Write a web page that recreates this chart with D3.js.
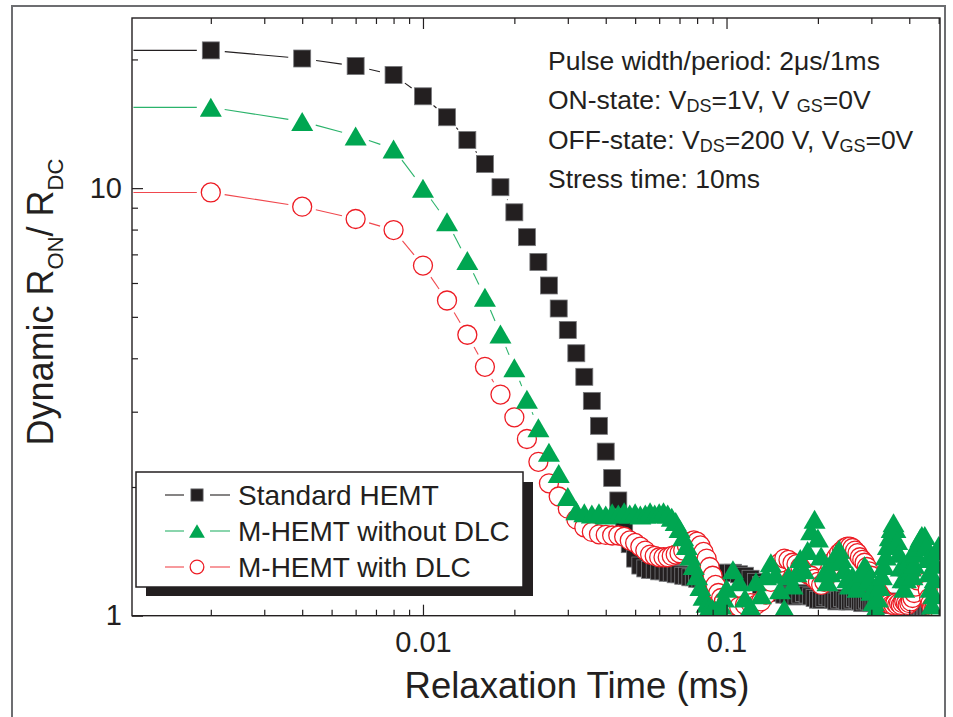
<!DOCTYPE html>
<html>
<head>
<meta charset="utf-8">
<script src="https://cdn.jsdelivr.net/npm/d3@7"></script>
<style>
  html, body { margin: 0; padding: 0; background: #fff; }
  svg { display: block; }
</style>
</head>
<body>
<svg id="chart"></svg>
<script>
const width = 953;
const height = 717;
const font = "'Liberation Sans', Arial, Helvetica, sans-serif";
const ink = "#231f20";

const svg = d3.select("#chart").attr("width", width).attr("height", height);

// Relaxation time grid (ms): 2 us steps up to 0.1 ms, then every 5 us
const timesEarly = d3.range(1, 51).map(i => +(i * 0.002).toFixed(3));
const timesLate = d3.range(21, 101).map(i => +(i * 0.005).toFixed(3));
const leadTime = 0.001; // sample left of the axis, only its line shows

// Standard HEMT
const stdEarly = [21.0, 20.1, 19.3, 18.4, 16.4, 14.65, 12.96, 11.39, 10.05, 8.78,
  7.68, 6.72, 5.92, 5.23, 4.66, 4.11, 3.62, 3.18, 2.78, 2.42,
  2.10, 1.86, 1.62, 1.47, 1.36, 1.31, 1.29, 1.28, 1.28, 1.27,
  1.27, 1.26, 1.26, 1.25, 1.25, 1.24, 1.24, 1.23, 1.23, 1.22,
  1.22, 1.21, 1.21, 1.22, 1.23, 1.24, 1.25, 1.26, 1.26, 1.26];
const stdLate = [1.26, 1.25, 1.24, 1.22, 1.20, 1.18, 1.16, 1.15, 1.14, 1.13,
  1.12, 1.12, 1.11, 1.11, 1.12, 1.13, 1.12, 1.11, 1.10, 1.09,
  1.09, 1.10, 1.11, 1.10, 1.09, 1.08, 1.09, 1.10, 1.09, 1.08,
  1.08, 1.09, 1.10, 1.09, 1.08, 1.07, 1.08, 1.09, 1.08, 1.07,
  1.07, 1.08, 1.09, 1.08, 1.07, 1.06, 1.07, 1.08, 1.07, 1.06,
  1.06, 1.07, 1.06, 1.05, 1.06, 1.07, 1.06, 1.05, 1.05, 1.06,
  1.05, 1.04, 1.05, 1.06, 1.05, 1.04, 1.05, 1.04, 1.04, 1.05,
  1.04, 1.03, 1.04, 1.05, 1.04, 1.03, 1.04, 1.03, 1.04, 1.03];

// M-HEMT without DLC
const noDlcEarly = [15.45, 14.32, 13.25, 12.35, 10.0, 8.35, 6.77, 5.56, 4.56, 3.80,
  3.21, 2.75, 2.41, 2.15, 1.90, 1.76, 1.74, 1.73, 1.74, 1.72,
  1.74, 1.73, 1.75, 1.73, 1.74, 1.72, 1.73, 1.75, 1.73, 1.74,
  1.75, 1.73, 1.70, 1.66, 1.60, 1.53, 1.46, 1.38, 1.31, 1.24,
  1.17, 1.11, 1.07, 1.05, 1.04, 1.03, 1.04, 1.06, 1.10, 1.16];
const noDlcLate = [1.28, 1.20, 1.10, 1.05, 1.20, 1.12, 1.24, 1.33, 1.25, 1.15,
  1.04, 1.24, 1.18, 1.26, 1.36, 1.28, 1.42, 1.58, 1.68, 1.52,
  1.38, 1.26, 1.20, 1.26, 1.34, 1.40, 1.43, 1.36, 1.28, 1.22,
  1.18, 1.24, 1.20, 1.16, 1.20, 1.26, 1.31, 1.29, 1.22, 1.14,
  1.08, 1.04, 1.10, 1.17, 1.24, 1.31, 1.38, 1.46, 1.53, 1.60,
  1.65, 1.60, 1.50, 1.40, 1.30, 1.22, 1.16, 1.22, 1.30, 1.36,
  1.30, 1.24, 1.32, 1.40, 1.45, 1.49, 1.52, 1.54, 1.50, 1.54,
  1.46, 1.36, 1.26, 1.16, 1.06, 1.12, 1.22, 1.32, 1.42, 1.46];

// M-HEMT with DLC
const dlcEarly = [9.77, 9.05, 8.47, 7.98, 6.59, 5.46, 4.54, 3.82, 3.29, 2.91,
  2.59, 2.29, 2.04, 1.90, 1.78, 1.68, 1.61, 1.57, 1.55, 1.545,
  1.54, 1.54, 1.53, 1.50, 1.48, 1.45, 1.42, 1.39, 1.38, 1.37,
  1.37, 1.37, 1.38, 1.39, 1.40, 1.42, 1.46, 1.49, 1.50, 1.49,
  1.46, 1.41, 1.36, 1.30, 1.24, 1.18, 1.13, 1.10, 1.08, 1.07];
const dlcLate = [1.06, 1.05, 1.06, 1.07, 1.06, 1.08, 1.12, 1.20, 1.28, 1.33,
  1.36, 1.35, 1.33, 1.32, 1.30, 1.27, 1.25, 1.24, 1.22, 1.20,
  1.18, 1.20, 1.25, 1.30, 1.34, 1.37, 1.40, 1.42, 1.44, 1.45,
  1.45, 1.44, 1.42, 1.40, 1.37, 1.35, 1.33, 1.30, 1.27, 1.24,
  1.20, 1.17, 1.14, 1.12, 1.10, 1.09, 1.08, 1.07, 1.07, 1.06,
  1.06, 1.07, 1.06, 1.07, 1.06, 1.07, 1.08, 1.07, 1.06, 1.07,
  1.08, 1.10, 1.13, 1.17, 1.21, 1.25, 1.28, 1.30, 1.28, 1.24,
  1.20, 1.15, 1.10, 1.07, 1.05, 1.06, 1.05, 1.04, 1.05, 1.04];

const xMajorTicks = [0.01, 0.1];
const xMinorTicks = [0.002, 0.003, 0.004, 0.005, 0.006, 0.007, 0.008, 0.009,
  0.02, 0.03, 0.04, 0.05, 0.06, 0.07, 0.08, 0.09, 0.2, 0.3, 0.4, 0.5];
const yMajorTicks = [1, 10];
const yMinorTicks = [2, 3, 4, 5, 6, 7, 8, 9, 20];

const notes = [
  [["Pulse width/period: 2\u03bcs/1ms"]],
  [["ON-state: V"], ["DS", true], ["=1V, V "], ["GS", true], ["=0V"]],
  [["OFF-state: V"], ["DS", true], ["=200 V, V"], ["GS", true], ["=0V"]],
  [["Stress time: 10ms"]],
];

// draw order: black, red, green (green ends up on top)
const series = [
  { name: "Standard HEMT", early: stdEarly, late: stdLate, shape: "square", color: ink, line: "#231f20" },
  { name: "M-HEMT with DLC", early: dlcEarly, late: dlcLate, shape: "circle", color: "#ed1c24", line: "#f0484e" },
  { name: "M-HEMT without DLC", early: noDlcEarly, late: noDlcLate, shape: "triangle", color: "#00a651", line: "#2bb36b" },
];
const legendOrder = ["Standard HEMT", "M-HEMT without DLC", "M-HEMT with DLC"];

const plot = { left: 132, right: 940, top: 18, bottom: 615.7 };

const x = d3.scaleLog().domain([0.0011, 0.505]).range([plot.left, plot.right]);
const y = d3.scaleLog().domain([1, 25]).range([plot.bottom, plot.top]);

// outer figure frame
svg.append("rect")
  .attr("x", 12).attr("y", 6)
  .attr("width", 933).attr("height", 740)
  .attr("fill", "none")
  .attr("stroke", "#6d6e71")
  .attr("stroke-width", 2);

svg.append("clipPath").attr("id", "plot-clip")
  .append("rect")
  .attr("x", plot.left).attr("y", plot.top)
  .attr("width", plot.right - plot.left).attr("height", plot.bottom - plot.top);

// markers
function addMarker(parent, shape, color, cx, cy, k) {
  if (shape === "square") {
    const s = 17 * k;
    parent.append("rect")
      .attr("x", cx - s / 2).attr("y", cy - s / 2)
      .attr("width", s).attr("height", s)
      .attr("fill", color)
      .attr("stroke", "#77787b")
      .attr("stroke-width", 0.8);
  } else if (shape === "triangle") {
    const w = 22 * k, h = 19 * k;
    parent.append("path")
      .attr("d", `M${cx},${cy - h / 2}L${cx + w / 2},${cy + h / 2}L${cx - w / 2},${cy + h / 2}Z`)
      .attr("fill", color);
  } else {
    parent.append("circle")
      .attr("cx", cx).attr("cy", cy)
      .attr("r", 9.5 * k)
      .attr("fill", "#fff")
      .attr("stroke", color)
      .attr("stroke-width", 1.3);
  }
}

const gap = 14;

function drawSeries(s) {
  const points = [{ t: leadTime, v: s.early[0] }]
    .concat(timesEarly.map((t, i) => ({ t, v: s.early[i] })))
    .concat(timesLate.map((t, i) => ({ t, v: s.late[i] })))
    .filter(d => d.v !== undefined);

  const g = svg.append("g").attr("clip-path", "url(#plot-clip)");

  // connecting line, broken around each symbol
  const px = points.map(d => [x(d.t), y(d.v)]);
  for (let i = 0; i < px.length - 1; i++) {
    const [x1, y1] = px[i];
    const [x2, y2] = px[i + 1];
    const len = Math.hypot(x2 - x1, y2 - y1);
    if (len <= 2 * gap) continue;
    const ux = (x2 - x1) / len, uy = (y2 - y1) / len;
    g.append("line")
      .attr("x1", x1 + ux * gap).attr("y1", y1 + uy * gap)
      .attr("x2", x2 - ux * gap).attr("y2", y2 - uy * gap)
      .attr("stroke", s.line)
      .attr("stroke-width", 1.1);
  }

  points.forEach(d => addMarker(g, s.shape, s.color, x(d.t), y(d.v), 1));
}

series.forEach(drawSeries);

// axes (ticks point inward)
function styleAxis(g) {
  g.attr("font-family", font).attr("font-size", 29).attr("color", ink);
  g.select(".domain").remove();
  g.selectAll("line").attr("stroke-width", 1.2);
}

svg.append("g")
  .attr("transform", `translate(0,${plot.bottom})`)
  .call(d3.axisBottom(x).tickValues(xMajorTicks).tickSize(-11).tickSizeOuter(0)
    .tickPadding(16).tickFormat(d => String(d)))
  .call(styleAxis);
svg.append("g")
  .attr("transform", `translate(0,${plot.bottom})`)
  .call(d3.axisBottom(x).tickValues(xMinorTicks).tickSize(-6).tickSizeOuter(0).tickFormat(""))
  .call(styleAxis);
svg.append("g")
  .attr("transform", `translate(0,${plot.top})`)
  .call(d3.axisTop(x).tickValues(xMajorTicks).tickSize(-11).tickSizeOuter(0).tickFormat(""))
  .call(styleAxis);
svg.append("g")
  .attr("transform", `translate(0,${plot.top})`)
  .call(d3.axisTop(x).tickValues(xMinorTicks).tickSize(-6).tickSizeOuter(0).tickFormat(""))
  .call(styleAxis);
svg.append("g")
  .attr("transform", `translate(${plot.left},0)`)
  .call(d3.axisLeft(y).tickValues(yMajorTicks).tickSize(-11).tickSizeOuter(0)
    .tickPadding(10).tickFormat(d => String(d)))
  .call(styleAxis);
svg.append("g")
  .attr("transform", `translate(${plot.left},0)`)
  .call(d3.axisLeft(y).tickValues(yMinorTicks).tickSize(-6).tickSizeOuter(0).tickFormat(""))
  .call(styleAxis);

svg.append("rect")
  .attr("x", plot.left).attr("y", plot.top)
  .attr("width", plot.right - plot.left).attr("height", plot.bottom - plot.top)
  .attr("fill", "none")
  .attr("stroke", ink)
  .attr("stroke-width", 1.4);

// axis titles
svg.append("text")
  .attr("x", 577).attr("y", 698)
  .attr("text-anchor", "middle")
  .attr("font-family", font).attr("font-size", 36.5).attr("fill", ink)
  .text("Relaxation Time (ms)");

const yTitle = svg.append("text")
  .attr("transform", "translate(53,302) rotate(-90)")
  .attr("text-anchor", "middle")
  .attr("font-family", font).attr("font-size", 36).attr("fill", ink);
yTitle.append("tspan").text("Dynamic R");
yTitle.append("tspan").attr("font-size", 22).attr("dy", 10).text("ON");
yTitle.append("tspan").attr("dy", -10).text("/ R");
yTitle.append("tspan").attr("font-size", 22).attr("dy", 10).text("DC");

// test conditions
notes.forEach((parts, i) => {
  const t = svg.append("text")
    .attr("x", 548).attr("y", 70 + i * 39.4)
    .attr("font-family", font).attr("font-size", 26.5).attr("fill", ink);
  parts.forEach(([str, sub]) => {
    const span = t.append("tspan").text(str);
    if (sub) span.attr("font-size", 18).attr("dy", 3);
    else if (t.selectAll("tspan").size() > 1) span.attr("dy", -3);
  });
});

// legend with drop shadow
const legend = svg.append("g");
legend.append("rect")
  .attr("x", 146).attr("y", 482).attr("width", 387).attr("height", 114)
  .attr("fill", ink);
legend.append("rect")
  .attr("x", 136).attr("y", 472).attr("width", 387).attr("height", 115)
  .attr("fill", "#fff")
  .attr("stroke", ink)
  .attr("stroke-width", 1.5);

legendOrder.forEach((name, i) => {
  const s = series.find(d => d.name === name);
  const cy = 495 + i * 36;
  legend.append("line").attr("x1", 165).attr("x2", 184).attr("y1", cy).attr("y2", cy)
    .attr("stroke", s.line).attr("stroke-width", 1.1);
  legend.append("line").attr("x1", 210).attr("x2", 230).attr("y1", cy).attr("y2", cy)
    .attr("stroke", s.line).attr("stroke-width", 1.1);
  addMarker(legend, s.shape, s.color, 197, cy, 0.72);
  legend.append("text")
    .attr("x", 238).attr("y", cy + 10)
    .attr("font-family", font).attr("font-size", 28).attr("fill", ink)
    .text(name);
});
</script>
</body>
</html>
